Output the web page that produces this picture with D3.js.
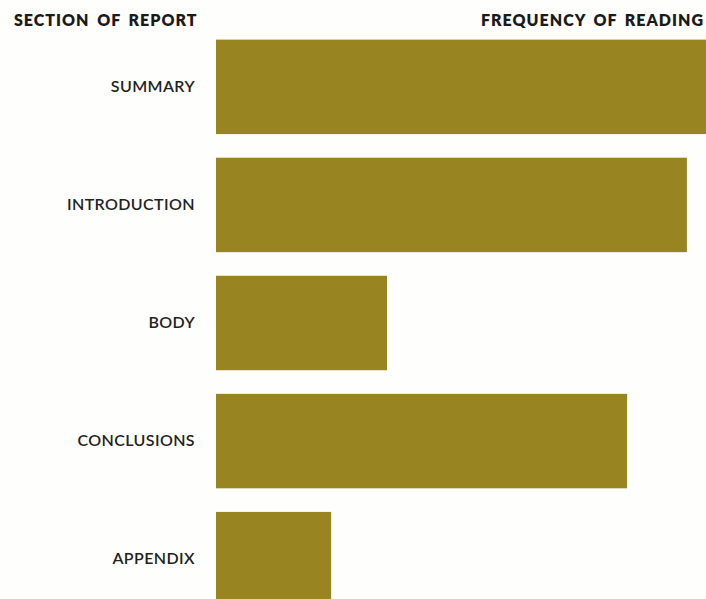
<!DOCTYPE html>
<html>
<head>
<meta charset="utf-8">
<script src="https://cdn.jsdelivr.net/npm/d3@7"></script>
<style>
  body { margin: 0; background: #fefefc; }
  svg { display: block; }
  .cat { font-family: Lato, "Noto Sans", sans-serif; font-size: 16px; font-weight: 600; fill: #222; letter-spacing: 0.4px; }
  .head { font-family: Lato, "Noto Sans", sans-serif; font-size: 16px; font-weight: 800; fill: #1a1a1a; letter-spacing: 1px; word-spacing: 3px; }
</style>
</head>
<body>
<div id="chart-area"></div>
<script>
// datos
const sections = ["SUMMARY", "INTRODUCTION", "BODY", "CONCLUSIONS", "APPENDIX"]
const frequency = [100, 96.1, 34.9, 83.9, 23.5]
const headLeft = "SECTION OF REPORT"
const headRight = "FREQUENCY OF READING"

const WIDTH = 706
const HEIGHT = 599
const BAR_LEFT = 216

const svg = d3.select("#chart-area").append("svg")
    .attr("width", WIDTH)
    .attr("height", HEIGHT)

svg.append("rect")
    .attr("width", WIDTH)
    .attr("height", HEIGHT)
    .attr("fill", "#fefefc")

const data = sections.map((s, i) => ({ name: s, value: frequency[i] }))

// scales
const x = d3.scaleLinear().domain([0, 100]).range([BAR_LEFT, 706])
const y = d3.scaleBand()
    .domain(sections)
    .range([16, 630])
    .paddingInner(0.2)
    .paddingOuter(0.2)

// barras
svg.append("g").attr("class", "bars")
    .selectAll("rect")
    .data(data)
    .enter()
    .append("rect")
        .attr("x", x(0))
        .attr("y", d => y(d.name))
        .attr("width", d => x(d.value) - x(0))
        .attr("height", y.bandwidth())
        .attr("fill", "#988421")

// etiquetas de categoria (eje izquierdo sin linea)
const yAxisCall = d3.axisLeft(y).tickSize(0).tickPadding(0)
const yAxis = svg.append("g")
    .attr("transform", `translate(195, 0)`)
    .call(yAxisCall)
yAxis.select(".domain").remove()
yAxis.selectAll("text")
    .attr("class", "cat")
    .attr("font-family", null)
    .attr("font-size", null)
    .attr("fill", null)

// titulos
svg.append("text")
    .attr("class", "head")
    .attr("x", 14)
    .attr("y", 26)
    .text(headLeft)

svg.append("text")
    .attr("class", "head")
    .attr("x", 704)
    .attr("y", 26)
    .style("text-anchor", "end")
    .text(headRight)
</script>
</body>
</html>
